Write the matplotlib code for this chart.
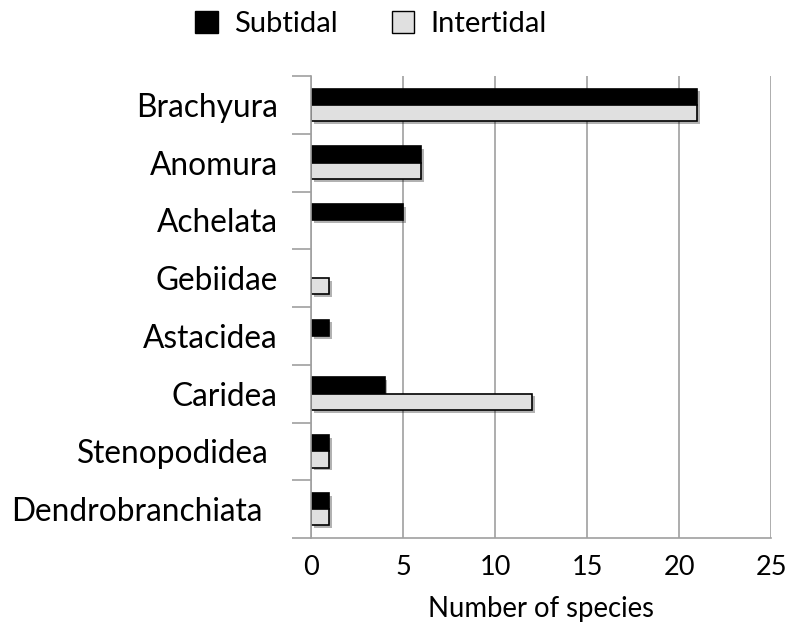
import matplotlib
matplotlib.use("Agg")
import matplotlib.pyplot as plt
import matplotlib.patheffects as pe
import matplotlib.transforms as mtransforms
from matplotlib.patches import Patch
import numpy as np

categories = ["Brachyura", "Anomura", "Achelata", "Gebiidae", "Astacidea",
              "Caridea", "Stenopodidea", "Dendrobranchiata"]
subtidal = [21, 6, 5, 0, 1, 4, 1, 1]
intertidal = [21, 6, 0, 1, 0, 12, 1, 1]
xticks = [0, 5, 10, 15, 20, 25]

plt.rcParams['font.family'] = ['Lato', 'DejaVu Sans']

fig = plt.figure(figsize=(7.86, 6.25), dpi=100)
ax = fig.add_axes([0.3957, 0.1392, 0.981 - 0.3957, 0.8784 - 0.1392])

n = len(categories)
y = np.arange(n)
h = 0.28
shadow = [pe.SimplePatchShadow(offset=(2, -2), alpha=0.3, shadow_rgbFace='k'), pe.Normal()]

b1 = ax.barh(y - h / 2, subtidal, height=h, color='black', edgecolor='black', linewidth=1.2)
b2 = ax.barh(y + h / 2, intertidal, height=h, color='#e0e0e0', edgecolor='black', linewidth=1.2)
for bars, vals in ((b1, subtidal), (b2, intertidal)):
    for p, v in zip(bars, vals):
        if v == 0:
            p.set_visible(False)
        else:
            p.set_path_effects(shadow)

ax.set_ylim(n - 0.5, -0.5)
ax.set_xlim(0, 25)
ax.set_xticks(xticks)
ax.set_xticklabels([str(t) for t in xticks], fontsize=19.5)
ax.set_xticks([0, 25], minor=True)
ax.set_yticks(y)
ax.set_yticklabels(categories, fontsize=22.8)
ax.set_yticks(np.arange(n + 1) - 0.5, minor=True)
ax.tick_params(axis='y', which='major', length=0, pad=24)
ax.tick_params(axis='y', which='minor', length=14, color='#a0a0a0', width=1.2)
ax.tick_params(axis='x', which='major', length=0, pad=12)
ax.tick_params(axis='x', which='minor', length=6, color='#a0a0a0', width=1.2)

# small label offsets as in the original layout
offsets = {"Stenopodidea": -9, "Dendrobranchiata": -15}
for lbl in ax.get_yticklabels():
    dx = offsets.get(lbl.get_text(), 0)
    if dx:
        lbl.set_transform(lbl.get_transform() +
                          mtransforms.ScaledTranslation(dx / 100, 0, fig.dpi_scale_trans))

ax.grid(axis='x', color='#a0a0a0', linewidth=1.2)
ax.set_axisbelow(True)
for s in ('top', 'right'):
    ax.spines[s].set_visible(False)
for s in ('left', 'bottom'):
    ax.spines[s].set_color('#a0a0a0')
    ax.spines[s].set_linewidth(1.2)

ax.set_xlabel("Number of species", fontsize=19.8, labelpad=12)

handles = [Patch(facecolor='black', edgecolor='black', label='Subtidal'),
           Patch(facecolor='#e0e0e0', edgecolor='black', label='Intertidal')]
fig.legend(handles=handles, loc='upper center', bbox_to_anchor=(0.472, 1.025), ncol=2,
           frameon=False, fontsize=21, handlelength=0.78, handleheight=0.78,
           columnspacing=1.85, handletextpad=0.55)

fig.savefig("out.png", dpi=100)
